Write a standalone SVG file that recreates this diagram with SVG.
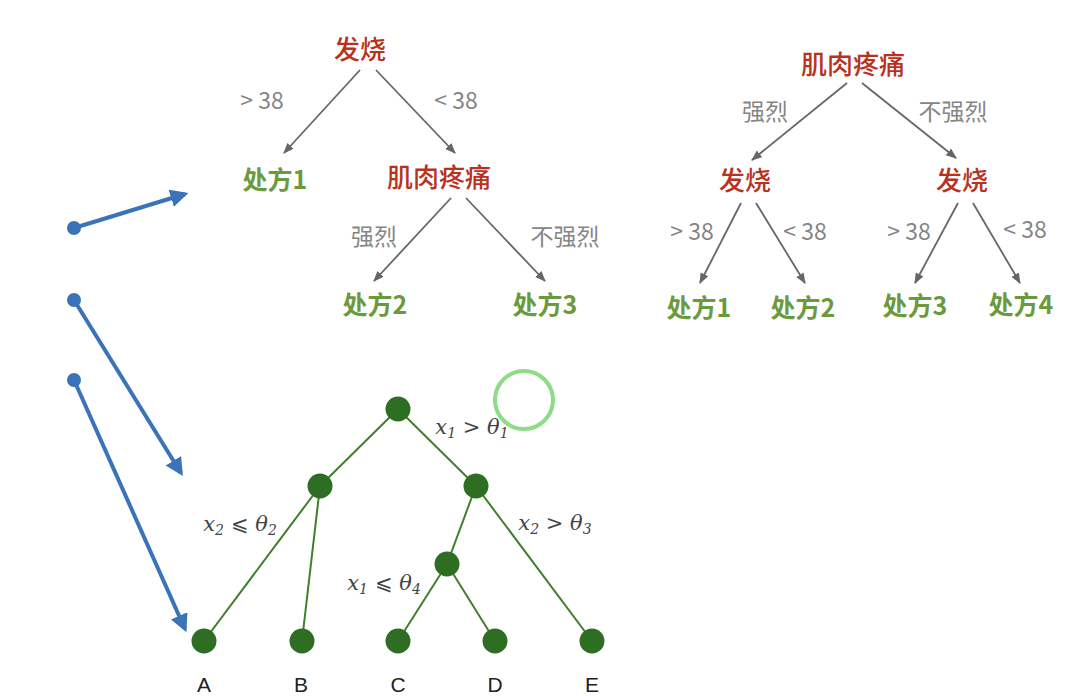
<svg xmlns="http://www.w3.org/2000/svg" width="1088" height="696" viewBox="0 0 1088 696">
<defs>
<style>
.t{font-family:"Noto Sans CJK SC","Noto Sans",sans-serif;text-anchor:middle}
.q{fill:#b8321e;font-size:26px;font-weight:500}
.rx{fill:#6b9a3c;font-size:25px;font-weight:700}
.lb{fill:#858585;font-size:23px;font-weight:400}
.ga{stroke:#666;stroke-width:1.8;fill:none;marker-end:url(#ah)}
.ba{stroke:#3b73b9;stroke-width:4;fill:none;marker-end:url(#bh)}
.gl{stroke:#3f7f2c;stroke-width:2;fill:none}
.gn{fill:#2d6e22}
.m{font-family:"DejaVu Serif","Liberation Serif",serif;font-style:italic;fill:#444;font-size:21px;text-anchor:middle}
.s{font-size:14px}
.lt{font-family:"Liberation Sans",Arial,sans-serif;font-size:21px;fill:#222;text-anchor:middle}
</style>
<marker id="ah" viewBox="0 0 10 10" refX="9" refY="5" markerWidth="6" markerHeight="6" orient="auto"><path d="M0,1 L10,5 L0,9 z" fill="#666"/></marker>
<marker id="bh" viewBox="0 0 10 10" refX="8" refY="5" markerWidth="4.5" markerHeight="4.5" orient="auto"><path d="M0,0 L10,5 L0,10 z" fill="#3b73b9"/></marker>
</defs>
<rect width="1088" height="696" fill="#ffffff"/>

<g id="connectors">
<line class="ga" x1="360" y1="70" x2="284" y2="153"/>
<line class="ga" x1="376" y1="70" x2="455" y2="153"/>
<line class="ga" x1="451" y1="198" x2="374" y2="281"/>
<line class="ga" x1="466" y1="198" x2="545" y2="281"/>
<line class="ga" x1="847" y1="83" x2="752" y2="160"/>
<line class="ga" x1="862" y1="83" x2="956" y2="158"/>
<line class="ga" x1="741" y1="203" x2="700" y2="283"/>
<line class="ga" x1="756" y1="203" x2="805" y2="283"/>
<line class="ga" x1="958" y1="203" x2="915" y2="283"/>
<line class="ga" x1="973" y1="203" x2="1020" y2="283"/>
<line class="gl" x1="398" y1="409" x2="320" y2="486"/>
<line class="gl" x1="398" y1="409" x2="476" y2="486"/>
<line class="gl" x1="320" y1="486" x2="204" y2="641"/>
<line class="gl" x1="320" y1="486" x2="302" y2="641"/>
<line class="gl" x1="476" y1="486" x2="447" y2="564"/>
<line class="gl" x1="476" y1="486" x2="592" y2="641"/>
<line class="gl" x1="447" y1="564" x2="398" y2="641"/>
<line class="gl" x1="447" y1="564" x2="495" y2="641"/>
<line class="ba" x1="74" y1="228" x2="185" y2="194"/>
<line class="ba" x1="74" y1="300" x2="181" y2="473"/>
<line class="ba" x1="74" y1="380" x2="185" y2="629"/>
<circle cx="74" cy="228" r="7" fill="#3b73b9"/>
<circle cx="74" cy="300" r="7" fill="#3b73b9"/>
<circle cx="74" cy="380" r="7" fill="#3b73b9"/>
</g>

<g id="tree1-labels">
<text class="t lb" x="262" y="109">&gt; 38</text>
<text class="t lb" x="456" y="109">&lt; 38</text>
<text class="t lb" x="374" y="245">强烈</text>
<text class="t lb" x="565" y="245">不强烈</text>
</g>
<g id="t1-fever"><text class="t q" x="360" y="59">发烧</text></g>
<g id="t1-rx1"><text class="t rx" x="275" y="189">处方1</text></g>
<g id="t1-muscle"><text class="t q" x="439" y="187">肌肉疼痛</text></g>
<g id="t1-rx2"><text class="t rx" x="375" y="314">处方2</text></g>
<g id="t1-rx3"><text class="t rx" x="545" y="314">处方3</text></g>

<g id="tree2-labels">
<text class="t lb" x="765" y="120">强烈</text>
<text class="t lb" x="953" y="120">不强烈</text>
<text class="t lb" x="692" y="240">&gt; 38</text>
<text class="t lb" x="805" y="240">&lt; 38</text>
<text class="t lb" x="909" y="240">&gt; 38</text>
<text class="t lb" x="1025" y="238">&lt; 38</text>
</g>
<g id="t2-muscle"><text class="t q" x="853" y="74">肌肉疼痛</text></g>
<g id="t2-fever-l"><text class="t q" x="745" y="190">发烧</text></g>
<g id="t2-fever-r"><text class="t q" x="962" y="190">发烧</text></g>
<g id="t2-rx1"><text class="t rx" x="699" y="317">处方1</text></g>
<g id="t2-rx2"><text class="t rx" x="803" y="317">处方2</text></g>
<g id="t2-rx3"><text class="t rx" x="915" y="315">处方3</text></g>
<g id="t2-rx4"><text class="t rx" x="1021" y="314">处方4</text></g>

<g id="t3-root"><circle class="gn" cx="398" cy="409" r="12.5"/></g>
<g id="t3-n1"><circle class="gn" cx="320" cy="486" r="12.5"/></g>
<g id="t3-n2"><circle class="gn" cx="476" cy="486" r="12.5"/></g>
<g id="t3-n3"><circle class="gn" cx="447" cy="564" r="12.5"/></g>
<g id="t3-A"><circle class="gn" cx="204" cy="641" r="12.5"/><text class="lt" x="204" y="692">A</text></g>
<g id="t3-B"><circle class="gn" cx="302" cy="641" r="12.5"/><text class="lt" x="301" y="692">B</text></g>
<g id="t3-C"><circle class="gn" cx="398" cy="641" r="12.5"/><text class="lt" x="398" y="692">C</text></g>
<g id="t3-D"><circle class="gn" cx="495" cy="641" r="12.5"/><text class="lt" x="495" y="692">D</text></g>
<g id="t3-E"><circle class="gn" cx="592" cy="641" r="12.5"/><text class="lt" x="592" y="692">E</text></g>

<g id="t3-labels">
<text class="m" x="472" y="434">x<tspan class="s" dy="4">1</tspan><tspan dy="-4" font-style="normal"> &gt; </tspan>θ<tspan class="s" dy="4">1</tspan></text>
<text class="m" x="240" y="531">x<tspan class="s" dy="4">2</tspan><tspan dy="-4" font-style="normal"> ⩽ </tspan>θ<tspan class="s" dy="4">2</tspan></text>
<text class="m" x="555" y="530">x<tspan class="s" dy="4">2</tspan><tspan dy="-4" font-style="normal"> &gt; </tspan>θ<tspan class="s" dy="4">3</tspan></text>
<text class="m" x="384" y="590">x<tspan class="s" dy="4">1</tspan><tspan dy="-4" font-style="normal"> ⩽ </tspan>θ<tspan class="s" dy="4">4</tspan></text>
</g>

<circle cx="524" cy="400" r="29" fill="none" stroke="#8fdc86" stroke-width="4"/>
</svg>
